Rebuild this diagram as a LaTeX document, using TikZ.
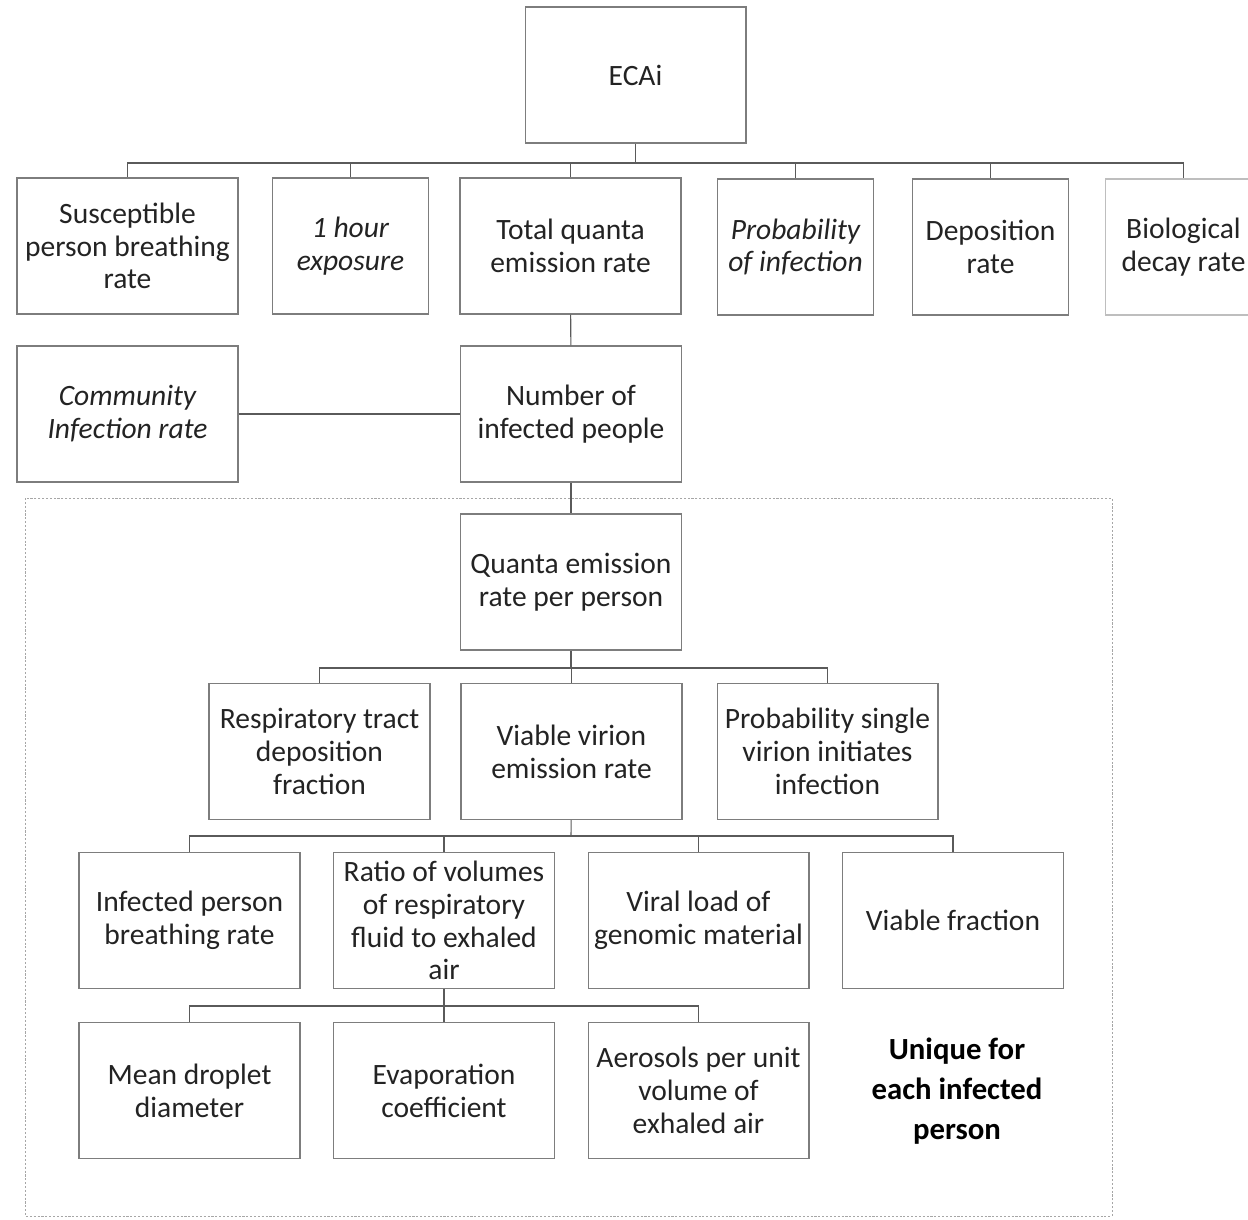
\documentclass[tikz,border=0pt]{standalone}
\usepackage{fontspec}
\setmainfont{Carlito}
\usetikzlibrary{positioning}
\definecolor{boxgray}{RGB}{125,125,125}
\definecolor{linegray}{RGB}{90,90,90}
\definecolor{txtgray}{RGB}{35,35,35}

\begin{document}
\begin{tikzpicture}[x=0.02cm,y=-0.02cm,
  blk/.style={draw=boxgray, line width=0.6pt, fill=white, minimum width=4.42cm, minimum height=2.72cm,
    align=center, text=txtgray, font=\fontsize{16.8}{18.7}\selectfont, inner sep=1pt},
  nblk/.style={blk, minimum width=3.12cm},
  link/.style={draw=linegray, line width=0.6pt}]
\useasboundingbox (0,0) rectangle (1248,1220);

% dotted frame round the per-person part
\draw[gray!70, line width=0.5pt, dash pattern=on 1.2pt off 1pt] (25,498) rectangle (1112,1216);

% top level
\node[blk] (ecai) at (635.5,75) {ECAi};
\node[blk] (susc) at (127.5,246) {Susceptible\\person breathing\\rate};
\node[nblk] (hour) at (350.5,246) {\itshape 1 hour\\\itshape exposure};
\node[blk] (total) at (570.5,246) {Total quanta\\emission rate};
\node[nblk] (prob) at (795.5,247) {\itshape Probability\\\itshape of infection};
\node[nblk] (depo) at (990.5,247) {Deposition\\rate};
\node[nblk, draw=boxgray!50] (bio) at (1183.5,247) {Biological\\decay rate};

\node[blk] (comm) at (127.5,414) {\itshape Community\\\itshape Infection rate};
\node[blk] (num) at (571,414) {Number of\\infected people};

% per person
\node[blk] (qpp) at (571,582) {Quanta emission\\rate per person};
\node[blk] (resp) at (319.5,751.5) {Respiratory tract\\deposition\\fraction};
\node[blk] (vvir) at (571.5,751.5) {Viable virion\\emission rate};
\node[blk] (psing) at (827.5,751.5) {Probability single\\virion initiates\\infection};

\node[blk] (ibr) at (189.5,920.5) {Infected person\\breathing rate};
\node[blk] (ratio) at (444,920.5) {Ratio of volumes\\of respiratory\\fluid to exhaled\\air};
\node[blk] (vload) at (698.5,920.5) {Viral load of\\genomic material};
\node[blk] (vfrac) at (953,920.5) {Viable fraction};

\node[blk] (mdd) at (189.5,1090.5) {Mean droplet\\diameter};
\node[blk] (evap) at (444,1090.5) {Evaporation\\coefficient};
\node[blk] (aero) at (698.5,1090.5) {Aerosols per unit\\volume of\\exhaled air};

\node[text=black, font=\fontsize{17.5}{22.8}\selectfont\bfseries, align=center] (uniq) at (957,1091) {Unique for\\each infected\\person};

% connectors
\coordinate (busA) at (635.5,163);
\coordinate (busB) at (571,668);
\coordinate (busC) at (571,836);
\coordinate (busD) at (444,1006);

\draw[link] (ecai) -- (busA);
\foreach \n in {susc,hour,total,prob,depo,bio}
  \draw[link] (busA) -| (\n.north);
\draw[link] (total) -- (num);
\draw[link] (comm) -- (num);
\draw[link] (num) -- (qpp);

\draw[link] (qpp) -- (busB);
\foreach \n in {resp,vvir,psing}
  \draw[link] (busB) -| (\n.north);

\draw[link] (vvir) -- (busC);
\foreach \n in {ibr,ratio,vload,vfrac}
  \draw[link] (busC) -| (\n.north);

\draw[link] (ratio) -- (busD);
\foreach \n in {mdd,evap,aero}
  \draw[link] (busD) -| (\n.north);
\end{tikzpicture}
\end{document}
